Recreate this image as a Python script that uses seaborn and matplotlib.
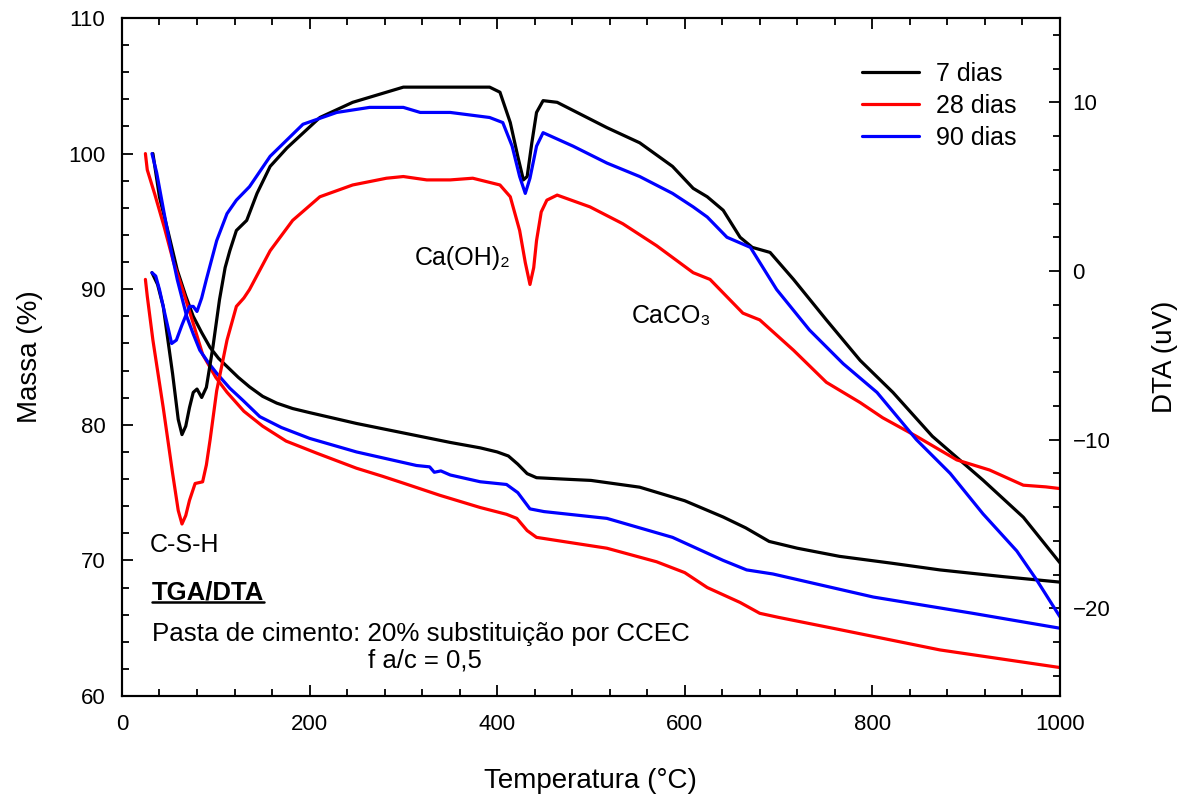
import pandas as pd
import seaborn as sns
import matplotlib.pyplot as plt
from matplotlib.ticker import MultipleLocator
from matplotlib.lines import Line2D

# TGA (massa, eixo esquerdo)
tga7_t = [33, 40, 50, 59, 68, 76, 85, 94, 103, 112, 124, 136, 150, 165, 182, 200, 250, 300, 350, 382,
          400, 412, 422, 432, 442, 470, 500, 552, 600, 641, 665, 690, 720, 765, 820, 872, 940, 1000]
tga7_m = [100, 96.8, 94.0, 91.4, 89.5, 88.0, 86.8, 85.7, 84.9, 84.3, 83.5, 82.8, 82.1, 81.6, 81.2, 80.9,
          80.1, 79.4, 78.7, 78.3, 78.0, 77.7, 77.1, 76.4, 76.1, 76.0, 75.9, 75.4, 74.4, 73.2, 72.4, 71.4,
          70.9, 70.3, 69.8, 69.3, 68.8, 68.4]

tga28_t = [25, 27, 35, 45, 55, 65, 75, 86, 100, 112, 130, 150, 175, 208, 250, 278, 300, 339, 382, 410,
           421, 432, 442, 470, 517, 570, 600, 624, 659, 680, 700, 765, 872, 1000]
tga28_m = [100, 98.8, 97.0, 94.6, 92.0, 89.9, 87.7, 85.2, 83.5, 82.4, 81.0, 79.9, 78.8, 77.9, 76.8, 76.2,
           75.7, 74.8, 73.9, 73.4, 73.1, 72.2, 71.7, 71.4, 70.9, 69.9, 69.1, 68.0, 66.9, 66.1, 65.8, 64.9,
           63.4, 62.1]

tga90_t = [32, 37, 45, 52, 59, 69, 76, 83, 92, 101, 115, 129, 147, 170, 200, 250, 314, 328, 333, 340,
           350, 382, 410, 422, 435, 450, 517, 587, 641, 666, 694, 801, 907, 1000]
tga90_m = [100, 98.6, 95.6, 93.0, 90.7, 88.0, 86.7, 85.5, 84.6, 83.8, 82.7, 81.8, 80.6, 79.8, 79.0, 78.0,
           77.0, 76.9, 76.5, 76.6, 76.3, 75.8, 75.6, 75.0, 73.8, 73.6, 73.1, 71.7, 70.0, 69.3, 69.0, 67.3,
           66.1, 65.0]

# DTA (uV, eixo direito)
dta7_t = [32, 38, 44, 54, 60, 64, 68, 72, 76, 80, 85, 90, 97, 104, 110, 115, 122, 133, 144, 158, 176, 211,
          246, 282, 300, 350, 392, 403, 414, 422, 428, 432, 437, 442, 449, 464, 517, 552, 587, 609, 624,
          641, 659, 672, 691, 716, 751, 787, 822, 864, 918, 961, 1000]
dta7_v = [-0.1, -0.8, -2.1, -6.1, -8.8, -9.7, -9.2, -8.1, -7.2, -7.0, -7.5, -6.9, -4.5, -1.7, 0.2, 1.2, 2.4,
          3.0, 4.6, 6.2, 7.3, 9.1, 10.0, 10.6, 10.9, 10.9, 10.9, 10.6, 8.8, 6.8, 5.4, 5.6, 7.6, 9.4, 10.1,
          10.0, 8.5, 7.6, 6.2, 4.9, 4.4, 3.6, 2.0, 1.4, 1.1, -0.5, -2.9, -5.3, -7.2, -9.8, -12.4, -14.6,
          -17.3]

dta28_t = [25, 27, 33, 44, 54, 60, 64, 68, 72, 78, 86, 90, 94, 101, 112, 122, 130, 136, 158, 182, 211, 246,
           282, 300, 325, 350, 374, 403, 414, 424, 430, 435, 439, 442, 447, 453, 464, 499, 534, 570, 609,
           627, 641, 662, 680, 716, 751, 787, 811, 847, 890, 925, 961, 985, 1000]
dta28_v = [-0.5, -1.5, -4.1, -8.1, -12.0, -14.2, -15.0, -14.5, -13.6, -12.6, -12.5, -11.5, -10.0, -7.1,
           -4.1, -2.1, -1.6, -1.1, 1.2, 3.0, 4.4, 5.1, 5.5, 5.6, 5.4, 5.4, 5.5, 5.1, 4.4, 2.4, 0.5, -0.8,
           0.2, 1.8, 3.5, 4.2, 4.5, 3.8, 2.8, 1.5, -0.1, -0.5, -1.3, -2.5, -2.9, -4.7, -6.6, -7.8, -8.7,
           -9.8, -11.2, -11.8, -12.7, -12.8, -12.9]

dta90_t = [32, 36, 40, 46, 53, 58, 64, 72, 76, 80, 85, 90, 101, 112, 122, 136, 158, 193, 229, 264, 300,
           318, 350, 392, 406, 416, 424, 430, 435, 442, 449, 481, 517, 552, 587, 609, 624, 645, 670, 698,
           733, 769, 805, 847, 883, 918, 954, 975, 1000]
dta90_v = [-0.1, -0.3, -1.1, -2.6, -4.3, -4.1, -3.2, -2.1, -2.1, -2.4, -1.6, -0.5, 1.8, 3.4, 4.2, 5.0, 6.8,
           8.7, 9.4, 9.7, 9.7, 9.4, 9.4, 9.1, 8.8, 7.4, 5.6, 4.6, 5.5, 7.4, 8.2, 7.4, 6.4, 5.6, 4.6, 3.8,
           3.2, 2.0, 1.4, -1.1, -3.5, -5.5, -7.2, -10.0, -12.0, -14.4, -16.6, -18.3, -20.5]

labels = ['7 dias', '28 dias', '90 dias']
colors = ['black', 'red', 'blue']

sns.set_style('ticks')
plt.rcParams['font.family'] = ['Liberation Sans', 'DejaVu Sans']
plt.rcParams['text.color'] = 'black'
plt.rcParams['axes.labelcolor'] = 'black'
plt.rcParams['axes.edgecolor'] = 'black'
plt.rcParams['xtick.color'] = 'black'
plt.rcParams['ytick.color'] = 'black'

fig = plt.figure(figsize=(11.84, 7.96), dpi=100)
ax = fig.add_axes([0.103, 0.1256, 0.7922, 0.8518])
ax2 = ax.twinx()

tga = [(tga7_t, tga7_m), (tga28_t, tga28_m), (tga90_t, tga90_m)]
dta = [(dta7_t, dta7_v), (dta28_t, dta28_v), (dta90_t, dta90_v)]

for (t, m), lab, c in zip(tga, labels, colors):
    df = pd.DataFrame({'T': t, 'y': m})
    sns.lineplot(data=df, x='T', y='y', ax=ax, color=c, lw=2.3, sort=False, label=lab)
for (t, v), c in zip(dta, colors):
    df = pd.DataFrame({'T': t, 'y': v})
    sns.lineplot(data=df, x='T', y='y', ax=ax2, color=c, lw=2.3, sort=False)

ax.set_xlim(0, 1000)
ax.set_ylim(60, 110)
ax2.set_ylim(-25.2, 15)
ax.xaxis.set_major_locator(MultipleLocator(200))
ax.xaxis.set_minor_locator(MultipleLocator(40))
ax.yaxis.set_major_locator(MultipleLocator(10))
ax.yaxis.set_minor_locator(MultipleLocator(2))
ax2.yaxis.set_major_locator(MultipleLocator(10))
ax2.yaxis.set_minor_locator(MultipleLocator(2))

ax.tick_params(which='both', direction='in', top=True, labelsize=16, width=1.3)
ax.tick_params(axis='x', pad=13)
ax.tick_params(axis='y', pad=12)
ax.tick_params(which='major', length=8)
ax.tick_params(which='minor', length=5)
ax2.tick_params(which='both', direction='in', labelsize=16, width=1.3, pad=9)
ax2.tick_params(which='major', length=8)
ax2.tick_params(which='minor', length=5)
for a in (ax, ax2):
    for s in a.spines.values():
        s.set_linewidth(1.5)
        s.set_color('black')

ax.set_xlabel('Temperatura (°C)', fontsize=20, labelpad=24)
ax.set_ylabel('Massa (%)', fontsize=20, labelpad=18)
ax2.set_ylabel('DTA (uV)', fontsize=20, labelpad=30)

handles, labs = ax.get_legend_handles_labels()
ax.get_legend().remove()
ax2.legend(handles, labs, loc='upper left', bbox_to_anchor=(0.765, 0.969), frameon=False,
           fontsize=18, handlelength=2.3, labelspacing=0.33, handletextpad=0.65)

ax.text(67, 71.1, 'C-S-H', fontsize=18, ha='center', va='center')
ax.text(312, 92.3, 'Ca(OH)₂', fontsize=18, ha='left', va='center')
ax.text(544, 88.0, 'CaCO₃', fontsize=18, ha='left', va='center')
title = ax.text(32, 67.6, 'TGA/DTA', fontsize=18.5, fontweight='bold', ha='left', va='center')
ax.text(32, 64.6, 'Pasta de cimento: 20% substituição por CCEC', fontsize=18.7, ha='left', va='center')
ax.text(323, 62.6, 'f a/c = 0,5', fontsize=18.5, ha='center', va='center')

# sublinhado do TGA/DTA
fig.canvas.draw()
bb = title.get_window_extent().transformed(fig.transFigure.inverted())
fig.add_artist(Line2D([bb.x0, bb.x1], [bb.y0 + 0.004, bb.y0 + 0.004], color='black', lw=1.8,
                      transform=fig.transFigure))

fig.savefig('out.png', dpi=100)
